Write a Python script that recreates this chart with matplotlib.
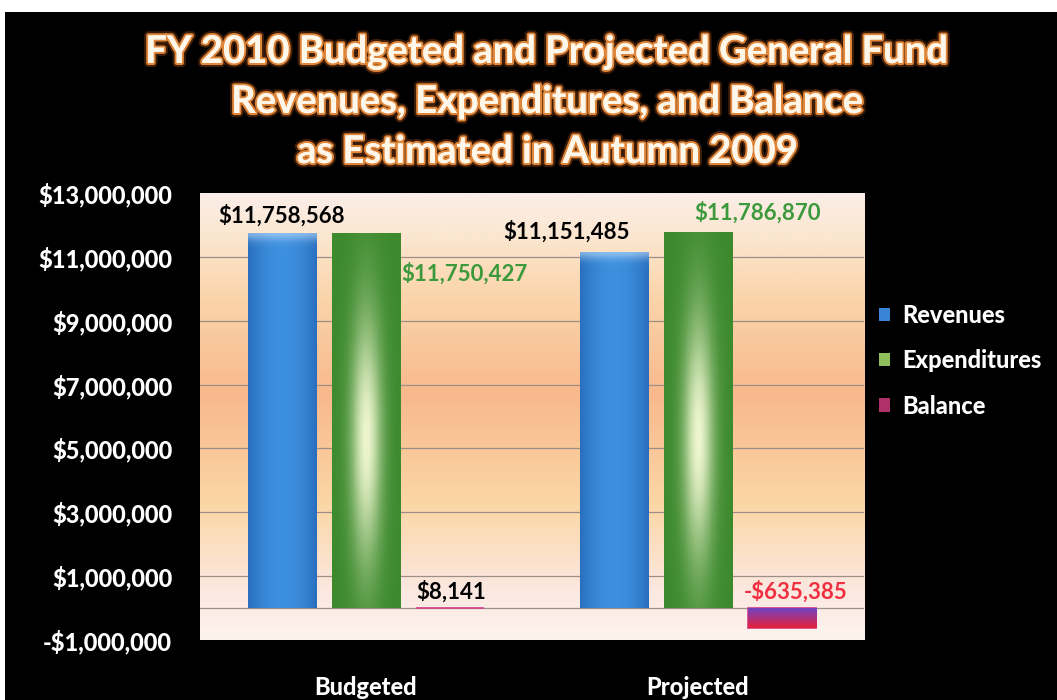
import numpy as np
import matplotlib
matplotlib.use("Agg")
import matplotlib.pyplot as plt
import matplotlib.patheffects as pe
from matplotlib.patches import Rectangle
from matplotlib.ticker import FuncFormatter
from matplotlib.colors import LinearSegmentedColormap, to_rgb

# ---------------- data ----------------
categories = ["Budgeted", "Projected"]
series_names = ["Revenues", "Expenditures", "Balance"]
revenues = [11758568, 11151485]
expenditures = [11750427, 11786870]
balance = [8141, -635385]
y_ticks = [-1000000, 1000000, 3000000, 5000000, 7000000, 9000000, 11000000, 13000000]

FONT = "Lato"
plt.rcParams["font.family"] = [FONT, "DejaVu Sans"]
HEAVY = "black"

fig = plt.figure(figsize=(10.57, 7.0), dpi=100, facecolor="white")
# black slide background (white strip at top / left)
fig.patches.append(Rectangle((5 / 1057, 0), 1, (700 - 12) / 700, transform=fig.transFigure,
                             facecolor="black", edgecolor="none", zorder=-10))

ax = fig.add_axes([200 / 1057, (700 - 640) / 700, (864 - 200) / 1057, (640 - 193) / 700])
ax.set_facecolor("none")
ax.set_xlim(-0.5, 1.5)
ax.set_ylim(y_ticks[0], y_ticks[-1])

# background gradient of plot area
stops = [(0.00, "#fdf3ee"), (0.12, "#fbe7de"), (0.30, "#fcd7a6"), (0.55, "#f8b98c"),
         (0.78, "#fbd6ad"), (0.90, "#fbe6cf"), (1.00, "#fbeee8")]
bg_cmap = LinearSegmentedColormap.from_list("bg", stops)
grad = np.linspace(0, 1, 256).reshape(-1, 1)
ax.imshow(grad, cmap=bg_cmap, aspect="auto", extent=[-0.5, 1.5, y_ticks[-1], y_ticks[0]],
          origin="upper", zorder=0)

# grid lines
for t in y_ticks[1:-1]:
    ax.axhline(t, color="#9c8f88", lw=0.9, zorder=1)
ax.axhline(0, color="#9c8f88", lw=0.9, zorder=1)

x = np.arange(len(categories))
width = 0.205
offsets = [-0.253, 0.0, 0.253]
base_colors = ["#3584d4", "#4c9a3a", "#8a3fa0"]
values = [revenues, expenditures, balance]

bars_all = []
for i, (vals, col, name) in enumerate(zip(values, base_colors, series_names)):
    bars = ax.bar(x + offsets[i], vals, width, color=col, label=name, zorder=2,
                  edgecolor="#d0408a" if i == 2 else "none", linewidth=1.2 if i == 2 else 0)
    bars_all.append(bars)


def make_gradient(kind, n=200):
    h = np.linspace(0, 1, n)          # vertical 0=top
    w = np.linspace(-1, 1, 60)        # horizontal
    img = np.zeros((n, len(w), 3))
    if kind == 0:
        edge = np.array(to_rgb("#2a6fbf"))
        mid = np.array(to_rgb("#3d90de"))
        f = 1 - np.abs(w) ** 2
        img[:] = edge + (mid - edge) * f[None, :, None]
        top = np.exp(-((h - 0.0) / 0.02) ** 2)
        img = img + (np.array([0.85, 0.93, 1.0]) - img) * (0.5 * top)[:, None, None]
    elif kind == 1:
        edge = np.array(to_rgb("#3d8a2e"))
        mid = np.array(to_rgb("#eef6cf"))
        fx = np.exp(-(w / 0.45) ** 2)
        fy = np.exp(-((h - 0.55) / 0.33) ** 2)
        f = fx[None, :] * fy[:, None]
        img[:] = edge + (mid - edge) * f[:, :, None]
    else:
        top = np.array(to_rgb("#6a45c8"))
        bot = np.array(to_rgb("#e8203a"))
        img[:] = top + (bot - top) * h[:, None, None]
    return np.clip(img, 0, 1)


for i, bars in enumerate(bars_all):
    g = make_gradient(i)
    for b in bars:
        x0, w_ = b.get_x(), b.get_width()
        y0, h_ = b.get_y(), b.get_height()
        ytop, ybot = max(y0, y0 + h_), min(y0, y0 + h_)
        if ytop - ybot < 50000:
            continue
        im = ax.imshow(g, extent=[x0, x0 + w_, ybot, ytop], aspect="auto", zorder=3, origin="upper")
        im.set_clip_path(b)

ax.set_xlim(-0.5, 1.5)
ax.set_ylim(y_ticks[0], y_ticks[-1])

# value labels (offsets in points)
label_specs = [
    (0, 0, "black", (0, 4), "center", "bottom"),
    (1, 0, "#3c9a3c", (1, -29), "left", "center"),
    (2, 0, "black", (1, 4), "center", "bottom"),
    (0, 1, "black", (-34, 7), "center", "bottom"),
    (1, 1, "#3c9a3c", (43, 6), "center", "bottom"),
    (2, 1, "#f03040", (10, 4), "center", "bottom"),
]
for si, ci, colr, off, ha, va in label_specs:
    b = bars_all[si][ci]
    v = values[si][ci]
    xx = b.get_x() + (b.get_width() if ha == "left" else b.get_width() / 2)
    yy = max(v, 0)
    txt = ("-$" if v < 0 else "$") + f"{abs(v):,}"
    ax.annotate(txt, xy=(xx, yy), xytext=off, textcoords="offset points", ha=ha, va=va,
                color=colr, fontsize=16, fontweight="bold", zorder=5)

# axes styling
for s in ax.spines.values():
    s.set_visible(False)
ax.set_yticks(y_ticks)
ax.yaxis.set_major_formatter(FuncFormatter(lambda v, p: ("-$" if v < 0 else "$") + f"{abs(int(v)):,}"))
ax.set_xticks(x)
ax.set_xticklabels(categories)
ax.tick_params(axis="both", length=0, colors="white", labelsize=17)
ax.tick_params(axis="y", pad=20)
ax.tick_params(axis="x", pad=26)
for lab in ax.get_yticklabels() + ax.get_xticklabels():
    lab.set_fontweight(HEAVY)

# legend
leg = ax.legend(loc="upper left", bbox_to_anchor=(0.99, 0.80), frameon=False, labelcolor="white",
                prop={"weight": HEAVY, "size": 17, "family": FONT}, handlelength=0.5, handleheight=0.5,
                handletextpad=0.5, labelspacing=0.95, borderaxespad=0.5)
for h, c in zip(leg.legend_handles, ["#3a84d6", "#8fbf5a", "#b0306a"]):
    h.set_facecolor(c)
    h.set_edgecolor("none")

# title
title_lines = ["FY 2010 Budgeted and Projected General Fund",
               "Revenues, Expenditures, and Balance",
               "as Estimated in Autumn 2009"]
for k, line in enumerate(title_lines):
    fig.text(548 / 1057, 1 - (52 + 50 * k) / 700, line, ha="center", va="center", fontsize=27.5,
             fontweight="bold", color="#fff7ea",
             path_effects=[pe.withStroke(linewidth=6, foreground="#7a3a10", alpha=0.5),
                           pe.withStroke(linewidth=3, foreground="#e0863a"), pe.Normal()])

fig.savefig("out.png", dpi=100, facecolor=fig.get_facecolor())
